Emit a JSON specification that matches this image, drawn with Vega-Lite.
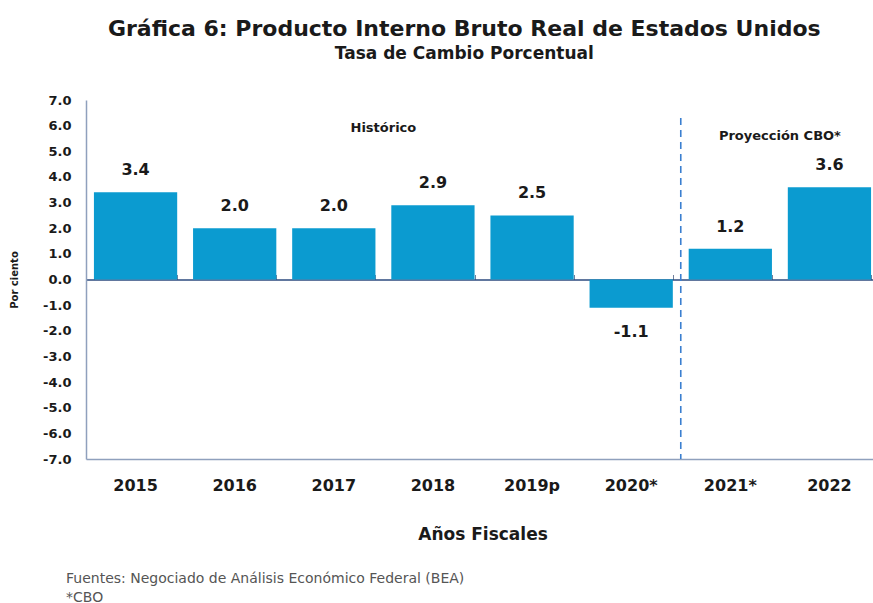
{
  "$schema": "https://vega.github.io/schema/vega-lite/v6.json",
  "background": "white",
  "padding": {"left": 9, "top": 18, "right": 0, "bottom": 0},
  "config": {
    "view": {"stroke": null},
    "font": "DejaVu Sans",
    "axis": {"labelOverlap": false},
    "locale": {"number": {"decimal": ".", "thousands": ",", "grouping": [3], "currency": ["$", ""], "minus": "-"}}
  },
  "title": {
    "text": "Gráfica 6: Producto Interno Bruto Real de Estados Unidos",
    "subtitle": "Tasa  de Cambio Porcentual",
    "fontSize": 22,
    "fontWeight": "bold",
    "color": "#1a1a1a",
    "subtitleFontSize": 17,
    "subtitleFontWeight": "bold",
    "subtitleColor": "#1a1a1a",
    "subtitlePadding": 5,
    "anchor": "middle",
    "dx": 20,
    "offset": 31
  },
  "datasets": {
    "gdp": [
      {"year": "2015", "value": 3.4},
      {"year": "2016", "value": 2.0},
      {"year": "2017", "value": 2.0},
      {"year": "2018", "value": 2.9},
      {"year": "2019p", "value": 2.5},
      {"year": "2020*", "value": -1.1},
      {"year": "2021*", "value": 1.2},
      {"year": "2022", "value": 3.6}
    ]
  },
  "vconcat": [
    {
      "width": 793,
      "height": 359,
      "title": {
        "text": ["Fuentes: Negociado de Análisis Económico Federal (BEA)", "*CBO"],
        "orient": "bottom",
        "anchor": "start",
        "frame": "group",
        "fontSize": 14,
        "fontWeight": "normal",
        "color": "#555555",
        "lineHeight": 19,
        "offset": 30,
        "dx": -20
      },
      "resolve": {"axis": {"x": "independent"}},
      "layer": [
        {
          "data": {"name": "gdp"},
          "mark": {"type": "bar", "color": "#0b9bd0"},
          "encoding": {
            "x": {
              "field": "year", "type": "nominal", "sort": null,
              "scale": {"paddingInner": 0.16, "paddingOuter": 0.08},
              "axis": {
                "orient": "bottom", "title": "Años Fiscales", "labelAngle": 0,
                "labelFontSize": 16, "labelFontWeight": "bold", "labelColor": "#1a1a1a",
                "labelPadding": 18, "ticks": false, "domainColor": "#8fa0bd", "domainWidth": 1.5,
                "titleFontSize": 17, "titleFontWeight": "bold", "titleColor": "#1a1a1a", "titlePadding": 33
              }
            },
            "y": {
              "field": "value", "type": "quantitative",
              "scale": {"domain": [-7, 7], "nice": false, "zero": false},
              "axis": {
                "title": "Por ciento", "values": [-7, -6, -5, -4, -3, -2, -1, 0, 1, 2, 3, 4, 5, 6, 7],
                "tickCount": 30,
                "format": ".1f", "grid": false, "ticks": false, "labelOverlap": false,
                "labelFontSize": 13, "labelFontWeight": "bold", "labelColor": "#1a1a1a", "labelPadding": 15,
                "domainColor": "#8fa0bd", "domainWidth": 1.5,
                "titleFontSize": 10, "titleFontWeight": "bold", "titleColor": "#1a1a1a", "titlePadding": 23
              }
            }
          }
        },
        {
          "data": {"name": "gdp"},
          "transform": [{"filter": "datum.value >= 0"}],
          "mark": {"type": "text", "dy": -22, "fontSize": 16, "fontWeight": "bold", "color": "#1a1a1a", "baseline": "middle"},
          "encoding": {
            "x": {"field": "year", "type": "nominal", "sort": null, "axis": null},
            "y": {"field": "value", "type": "quantitative"},
            "text": {"field": "value", "type": "quantitative", "format": ".1f"}
          }
        },
        {
          "data": {"name": "gdp"},
          "transform": [{"filter": "datum.value < 0"}],
          "mark": {"type": "text", "dy": 24, "fontSize": 16, "fontWeight": "bold", "color": "#1a1a1a", "baseline": "middle"},
          "encoding": {
            "x": {"field": "year", "type": "nominal", "sort": null, "axis": null},
            "y": {"field": "value", "type": "quantitative"},
            "text": {"field": "value", "type": "quantitative", "format": ".1f"}
          }
        },
        {
          "data": {"values": [{}]},
          "mark": {"type": "rule", "strokeDash": [7, 5], "color": "#3a7fd0", "strokeWidth": 1.6},
          "encoding": {
            "x": {
              "datum": "2021*", "type": "nominal", "bandPosition": -0.095,
              "axis": {
                "orient": "top", "offset": -179.5, "labels": false, "title": null,
                "domainColor": "#2c4a7e", "domainWidth": 1.5,
                "ticks": true, "tickBand": "extent", "tickSize": 5, "tickColor": "#6f7f9c", "tickWidth": 1
              }
            },
            "y": {"datum": 6.3, "type": "quantitative"},
            "y2": {"datum": -7}
          }
        },
        {
          "data": {"values": [{}]},
          "mark": {"type": "text", "text": "Histórico", "fontSize": 13, "fontWeight": "bold", "color": "#1a1a1a"},
          "encoding": {
            "x": {"datum": "2018", "type": "nominal", "bandPosition": -0.095, "axis": null},
            "y": {"datum": 5.9, "type": "quantitative"}
          }
        },
        {
          "data": {"values": [{}]},
          "mark": {"type": "text", "text": "Proyección CBO*", "fontSize": 13, "fontWeight": "bold", "color": "#1a1a1a"},
          "encoding": {
            "x": {"datum": "2022", "type": "nominal", "bandPosition": -0.095, "axis": null},
            "y": {"datum": 5.6, "type": "quantitative"}
          }
        }
      ]
    }
  ]
}
